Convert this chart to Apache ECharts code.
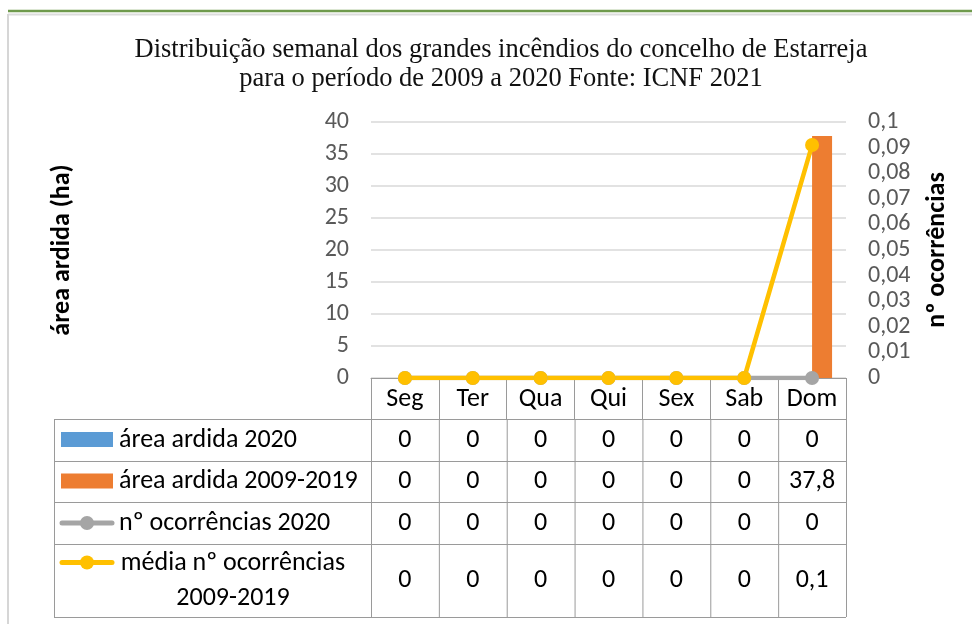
<!DOCTYPE html>
<html>
<head>
<meta charset="utf-8">
<script src="https://cdn.jsdelivr.net/npm/echarts@6/dist/echarts.min.js"></script>
<style>
  html, body { margin: 0; padding: 0; background: #ffffff; }
  #chart { width: 972px; height: 624px; }
</style>
</head>
<body>
<div id="chart"></div>
<script>
// Weekly distribution of large fires, Estarreja (2009–2020)
const days = ['Seg', 'Ter', 'Qua', 'Qui', 'Sex', 'Sab', 'Dom'];
const areaArdida2020 = [0, 0, 0, 0, 0, 0, 0];
const areaArdida2009_2019 = [0, 0, 0, 0, 0, 0, 37.8];
const ocorrencias2020 = [0, 0, 0, 0, 0, 0, 0];
const mediaOcorrencias2009_2019 = [0, 0, 0, 0, 0, 0, 0.091];

const seriesNames = ['área ardida 2020', 'área ardida 2009-2019', 'nº ocorrências 2020', 'média nº ocorrências 2009-2019'];
const colors = ['#5B9BD5', '#ED7D31', '#A5A5A5', '#FFC000'];

const leftTicks = { min: 0, max: 40, interval: 5 };
const rightTicks = { min: 0, max: 0.1, interval: 0.01 };

const FONT = 'Carlito, "Open Sans", sans-serif';
const BORDER = '#9a9a9a';
const TABLE_FONT = '26px ' + FONT;

const chart = echarts.init(document.getElementById('chart'), null, { renderer: 'canvas' });

function fmt(v) {
  const r = Math.round(v * 10) / 10;
  return String(r).replace('.', ',');
}

chart.setOption({
  animation: false,
  backgroundColor: '#ffffff',
  title: {
    text: 'Distribuição semanal dos grandes incêndios do concelho de Estarreja\npara o período de 2009 a 2020 Fonte: ICNF 2021',
    left: 496,
    top: 31,
    textAlign: 'center',
    textStyle: {
      fontFamily: '"Liberation Serif", serif',
      fontWeight: 'normal',
      fontSize: 26.5,
      lineHeight: 29,
      color: '#111111'
    }
  },
  grid: { left: 371, right: 126, top: 122, bottom: 246, containLabel: false },
  xAxis: {
    type: 'category',
    data: days,
    boundaryGap: true,
    axisLine: { show: true, lineStyle: { color: BORDER, width: 1 } },
    axisTick: { show: true, length: 41, lineStyle: { color: BORDER, width: 1 } },
    axisLabel: {
      margin: 21, verticalAlign: 'middle',
      fontFamily: FONT, fontSize: 26, color: '#000000'
    }
  },
  yAxis: [
    {
      type: 'value',
      min: leftTicks.min, max: leftTicks.max, interval: leftTicks.interval,
      name: 'área ardida (ha)',
      nameLocation: 'middle',
      nameGap: 296,
      nameRotate: 90,
      nameTextStyle: { fontFamily: FONT, fontWeight: 'bold', fontSize: 26, color: '#000000' },
      axisLine: { show: false },
      axisTick: { show: false },
      axisLabel: { margin: 22, fontFamily: FONT, fontSize: 24, color: '#595959' },
      splitLine: { show: true, lineStyle: { color: '#d9d9d9', width: 1.5 } }
    },
    {
      type: 'value',
      min: rightTicks.min, max: rightTicks.max, interval: rightTicks.interval,
      name: 'nº ocorrências',
      nameLocation: 'middle',
      nameGap: 78,
      nameRotate: 90,
      nameTextStyle: { fontFamily: FONT, fontWeight: 'bold', fontSize: 26, color: '#000000' },
      axisLine: { show: false },
      axisTick: { show: false },
      axisLabel: {
        margin: 22, fontFamily: FONT, fontSize: 24, color: '#595959',
        formatter: v => String(Math.round(v * 100) / 100).replace('.', ',')
      },
      splitLine: { show: false }
    }
  ],
  series: [
    {
      name: seriesNames[0], type: 'bar', yAxisIndex: 0, data: areaArdida2020,
      itemStyle: { color: colors[0] }, barWidth: 20, barGap: '0%'
    },
    {
      name: seriesNames[1], type: 'bar', yAxisIndex: 0, data: areaArdida2009_2019,
      itemStyle: { color: colors[1] }, barWidth: 20, barGap: '0%'
    },
    {
      name: seriesNames[2], type: 'line', yAxisIndex: 1, data: ocorrencias2020,
      symbol: 'circle', symbolSize: 14,
      lineStyle: { color: colors[2], width: 4.5 },
      itemStyle: { color: colors[2] }
    },
    {
      name: seriesNames[3], type: 'line', yAxisIndex: 1, data: mediaOcorrencias2009_2019,
      symbol: 'circle', symbolSize: 14,
      lineStyle: { color: colors[3], width: 4.5 },
      itemStyle: { color: colors[3] }
    }
  ]
});

// Data table under the plot, laid out on the category axis columns
const rowEdges = [419, 461, 502, 544, 617];
const tableLeft = 54;
const legendTextX = 119;

const centers = days.map((d, i) => chart.convertToPixel({ xAxisIndex: 0 }, i));
const band = centers.length > 1 ? centers[1] - centers[0] : 68;
const colEdges = [centers[0] - band / 2].concat(centers.map(c => c + band / 2));
const tableRight = colEdges[colEdges.length - 1];

const g = [];

// page frame
g.push({ type: 'line', shape: { x1: 8, y1: 11, x2: 972, y2: 11 }, style: { stroke: '#6f9a4d', lineWidth: 2.5 } });
g.push({ type: 'line', shape: { x1: 8, y1: 14.5, x2: 972, y2: 14.5 }, style: { stroke: '#dcdcdc', lineWidth: 2 } });
g.push({ type: 'line', shape: { x1: 8, y1: 14, x2: 8, y2: 624 }, style: { stroke: '#d6d6d6', lineWidth: 2 } });

// table grid
rowEdges.forEach(y => {
  g.push({ type: 'line', shape: { x1: tableLeft, y1: y + 0.5, x2: tableRight, y2: y + 0.5 }, style: { stroke: BORDER, lineWidth: 1 } });
});
g.push({ type: 'line', shape: { x1: tableLeft + 0.5, y1: rowEdges[0], x2: tableLeft + 0.5, y2: rowEdges[rowEdges.length - 1] }, style: { stroke: BORDER, lineWidth: 1 } });
colEdges.forEach(x => {
  g.push({ type: 'line', shape: { x1: x + 0.5, y1: rowEdges[0], x2: x + 0.5, y2: rowEdges[rowEdges.length - 1] }, style: { stroke: BORDER, lineWidth: 1 } });
});

const tableRows = [areaArdida2020, areaArdida2009_2019, ocorrencias2020, mediaOcorrencias2009_2019];
tableRows.forEach((row, r) => {
  const yc = (rowEdges[r] + rowEdges[r + 1]) / 2;
  // legend key
  if (r < 2) {
    g.push({ type: 'rect', shape: { x: 61, y: yc - 8, width: 52, height: 15 }, style: { fill: colors[r] } });
  } else {
    const ky = r === 3 ? yc - 18 : yc;
    g.push({ type: 'line', shape: { x1: 62, y1: ky, x2: 112, y2: ky }, style: { stroke: colors[r], lineWidth: 5, lineCap: 'round' } });
    g.push({ type: 'circle', shape: { cx: 87, cy: ky, r: 7 }, style: { fill: colors[r] } });
  }
  // series name
  const name = seriesNames[r];
  if (name.length > 22) {
    const cut = name.lastIndexOf(' ');
    g.push({
      type: 'text', x: 233, y: yc,
      style: { text: name.slice(0, cut) + '\n' + name.slice(cut + 1), align: 'center', verticalAlign: 'middle', lineHeight: 35, font: TABLE_FONT, fill: '#000000' }
    });
  } else {
    g.push({
      type: 'text', x: legendTextX, y: yc,
      style: { text: name, align: 'left', verticalAlign: 'middle', font: TABLE_FONT, fill: '#000000' }
    });
  }
  // values
  row.forEach((v, i) => {
    g.push({
      type: 'text', x: centers[i], y: yc,
      style: { text: fmt(v), align: 'center', verticalAlign: 'middle', font: TABLE_FONT, fill: '#000000' }
    });
  });
});

chart.setOption({ graphic: g });
</script>
</body>
</html>
